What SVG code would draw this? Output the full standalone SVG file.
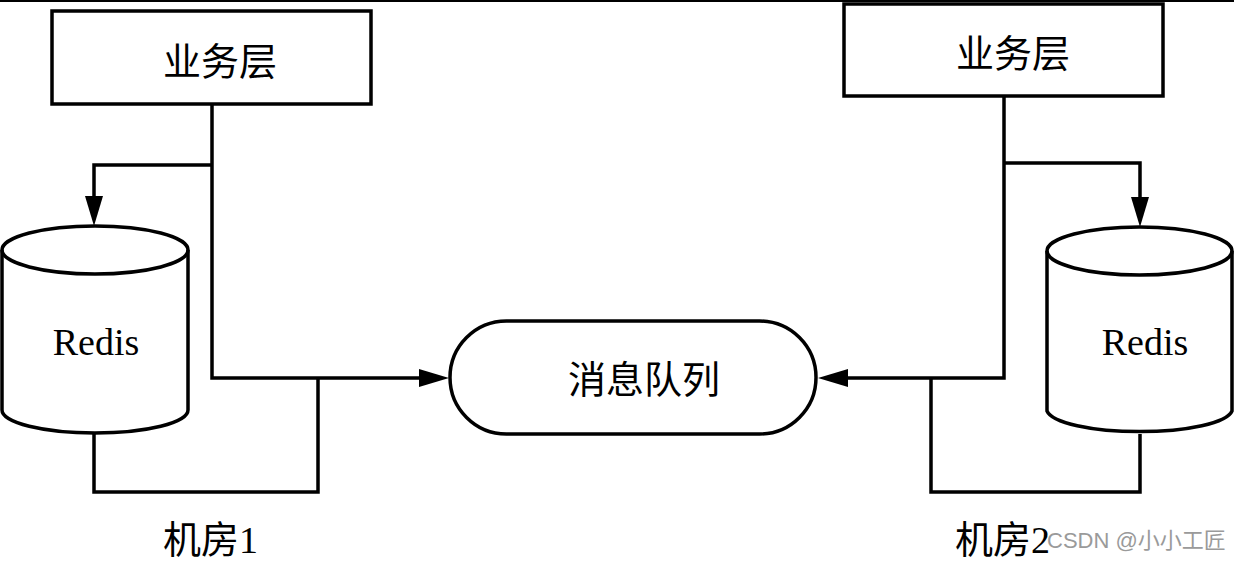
<svg xmlns="http://www.w3.org/2000/svg" width="1234" height="562" viewBox="0 0 1234 562">
<style>
.shape{fill:#fff;stroke:#000;stroke-width:3.5}
.line{fill:none;stroke:#000;stroke-width:3.5}
.cjk{font-family:"Liberation Serif","Noto Sans CJK SC",serif;font-size:38px;fill:#000}
.lat{font-family:"Liberation Serif",serif;font-size:38px;fill:#000}
.wm{font-family:"Liberation Sans","Noto Sans CJK SC",sans-serif;font-size:22px;fill:#9a9a9a}
</style>
<defs>
<marker id="arr" viewBox="0 0 30 18" markerWidth="30" markerHeight="18" refX="0" refY="9" orient="auto" markerUnits="userSpaceOnUse">
<path d="M0,0 L30,9 L0,18 z" fill="#000"/>
</marker>
</defs>
<rect width="1234" height="562" fill="#fff"/>
<line x1="0" y1="1" x2="1234" y2="1" stroke="#000" stroke-width="2"/>
<g id="connectors">
<path class="line" d="M212,104 V378 H419" marker-end="url(#arr)"/>
<path class="line" d="M212,165 H94 V196" marker-end="url(#arr)"/>
<path class="line" d="M94,433 V492 H318 V378"/>
<path class="line" d="M1004,96 V378 H848" marker-end="url(#arr)"/>
<path class="line" d="M1004,163 H1140 V197" marker-end="url(#arr)"/>
<path class="line" d="M1140,434 V492 H931 V378"/>
</g>
<g id="biz1">
<rect class="shape" x="52" y="11" width="319" height="93"/>
<text class="cjk" x="220" y="75" text-anchor="middle">业务层</text>
</g>
<g id="biz2">
<rect class="shape" x="844" y="4" width="319" height="92"/>
<text class="cjk" x="1013" y="67" text-anchor="middle">业务层</text>
</g>
<g id="redis1">
<path class="shape" d="M2,250 V410 A93,23 0 0 0 188,410 V250 A93,24 0 0 0 2,250 Z"/>
<path class="line" d="M2,250 A93,24 0 0 0 188,250"/>
<text class="lat" x="96" y="355" text-anchor="middle">Redis</text>
</g>
<g id="redis2">
<path class="shape" d="M1047,251 V411 A93,23 0 0 0 1232,411 V251 A92.5,24 0 0 0 1047,251 Z"/>
<path class="line" d="M1047,251 A92.5,24 0 0 0 1232,251"/>
<text class="lat" x="1145" y="355" text-anchor="middle">Redis</text>
</g>
<g id="mq">
<rect class="shape" x="450" y="321" width="366" height="113" rx="56.5" ry="56.5"/>
<text class="cjk" x="644" y="393" text-anchor="middle">消息队列</text>
</g>
<g id="room1">
<text class="cjk" x="163" y="553">机房1</text>
</g>
<g id="room2">
<text class="cjk" x="955" y="553">机房2</text>
</g>
<text class="wm" x="1047" y="548">CSDN @小小工匠</text>
</svg>
